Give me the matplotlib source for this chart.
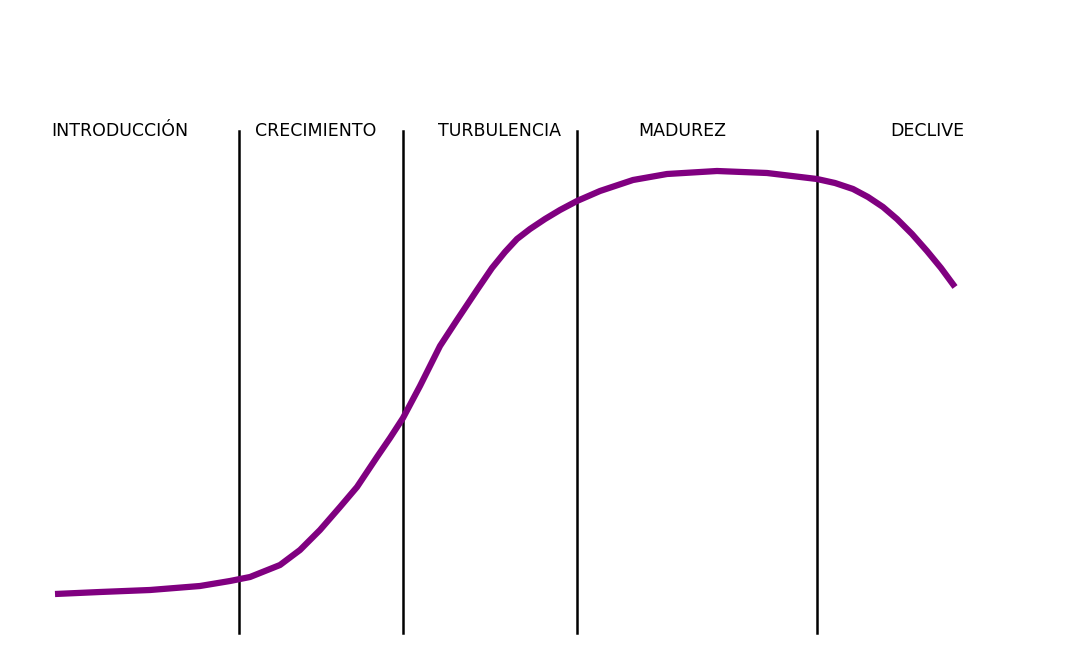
import matplotlib

matplotlib.use("Agg")
import matplotlib.pyplot as plt

# curve traced in pixel coordinates of the picture
curve_x = [55, 100, 150, 200, 230, 250, 280, 300, 320, 340, 357, 377, 390, 403,
           420, 440, 457, 477, 492, 505, 517, 530, 545, 560, 577, 600, 633, 667,
           717, 767, 817, 835, 853, 868, 883, 897, 912, 927, 941, 955]
curve_y = [594, 592, 590, 586, 581, 577, 565, 550, 530, 507, 487, 457, 438, 418,
           386, 346, 320, 290, 268, 252, 239, 229, 219, 210, 201, 191, 180, 174,
           171, 173, 179, 183, 189, 197, 207, 219, 234, 251, 268, 287]

stage_bounds = [239, 403, 577, 817]
stage_names = ["INTRODUCCIÓN", "CRECIMIENTO", "TURBULENCIA", "MADUREZ", "DECLIVE"]
stage_label_x = [120, 316, 500, 682, 927]

figure = plt.figure(figsize=(10.76, 6.51), dpi=100)
axis = figure.add_axes([0, 0, 1, 1])
axis.set_xlim(0, 1076)
axis.set_ylim(651, 0)
axis.axis("off")

for x in stage_bounds:
    axis.plot([x, x], [131, 633], color="black", linewidth=1.8)

for x, name in zip(stage_label_x, stage_names):
    axis.text(x, 131, name, ha="center", va="center", fontsize=12.5,
              family="DejaVu Sans")

axis.plot(curve_x, curve_y, color="#800080", linewidth=4.5,
          solid_capstyle="butt", solid_joinstyle="round")

figure.savefig("out.png", dpi=100)
plt.close(figure)
